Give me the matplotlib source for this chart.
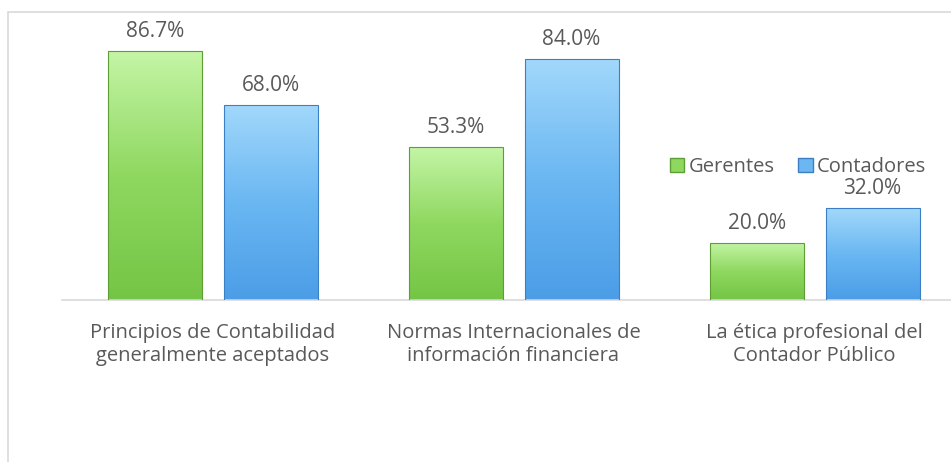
import numpy as np
import matplotlib
matplotlib.use("Agg")
import matplotlib.pyplot as plt
from matplotlib.colors import LinearSegmentedColormap
from matplotlib.patches import Patch

categories = [
    "Principios de Contabilidad\ngeneralmente aceptados",
    "Normas Internacionales de\ninformación financiera",
    "La ética profesional del\nContador Público",
]
series_names = ["Gerentes", "Contadores"]
gerentes = [86.7, 53.3, 20.0]
contadores = [68.0, 84.0, 32.0]

TEXT = "#595959"
FS = 14.5
plt.rcParams["font.family"] = ["Open Sans", "DejaVu Sans"]

green_cmap = LinearSegmentedColormap.from_list("g", ["#74c545", "#8fd860", "#c4f5a6"])
blue_cmap = LinearSegmentedColormap.from_list("b", ["#4b9de7", "#6ab7f2", "#a2d8fb"])
styles = [(green_cmap, "#5e9e35"), (blue_cmap, "#3b7fc4")]


def gradient_bars(ax, xs, heights, width, cmap, edge):
    bars = ax.bar(xs, heights, width, color="none", edgecolor=edge, linewidth=0.8, zorder=3)
    grad = np.linspace(0, 1, 256).reshape(-1, 1)
    for b in bars:
        x0, y0 = b.get_x(), b.get_y()
        w, h = b.get_width(), b.get_height()
        im = ax.imshow(grad, cmap=cmap, aspect="auto", origin="lower",
                       extent=(x0, x0 + w, y0, y0 + h), zorder=2)
        im.set_clip_path(b)
    return bars


fig = plt.figure(figsize=(9.51, 4.62), dpi=100)
# chart-area frame
fig.patches.append(plt.Rectangle((8 / 951, -0.1), 1.1, 1 - 12 / 462 + 0.1,
                                 transform=fig.transFigure, fill=False,
                                 edgecolor="#d9d9d9", linewidth=1.2))
ax = fig.add_axes([62 / 951, 1 - 300 / 462, 903 / 951, 287 / 462])

x = np.arange(len(categories))
width = 0.312
offs = [-0.191, 0.193]
for i, vals in enumerate([gerentes, contadores]):
    cmap, edge = styles[i]
    bars = gradient_bars(ax, x + offs[i], vals, width, cmap, edge)
    for b, v in zip(bars, vals):
        ax.text(b.get_x() + b.get_width() / 2, v + 6.8, f"{v:.1f}%",
                ha="center", va="center", fontsize=15, color=TEXT, zorder=5)

ax.set_xlim(-0.5, 2.5)
ax.set_ylim(0, 100)
ax.set_yticks([])
ax.set_xticks(x)
ax.set_xticklabels(categories, fontsize=FS, color=TEXT, linespacing=1.22)
ax.tick_params(axis="x", length=0, pad=16.5)
for s in ["top", "right", "left"]:
    ax.spines[s].set_visible(False)
ax.spines["bottom"].set_color("#d9d9d9")
ax.spines["bottom"].set_linewidth(1.2)
ax.set_facecolor("none")

handles = [Patch(facecolor="#8fd860", edgecolor="#5e9e35"),
           Patch(facecolor="#6ab7f2", edgecolor="#3b7fc4")]
leg = ax.legend(handles, series_names, loc="center", bbox_to_anchor=(736 / 903, 133 / 287),
                ncol=2, frameon=False, fontsize=FS, handlelength=0.7, handleheight=0.7,
                handletextpad=0.2, columnspacing=1.2, borderpad=0)
for t in leg.get_texts():
    t.set_color(TEXT)

fig.savefig("out.png", dpi=100)
